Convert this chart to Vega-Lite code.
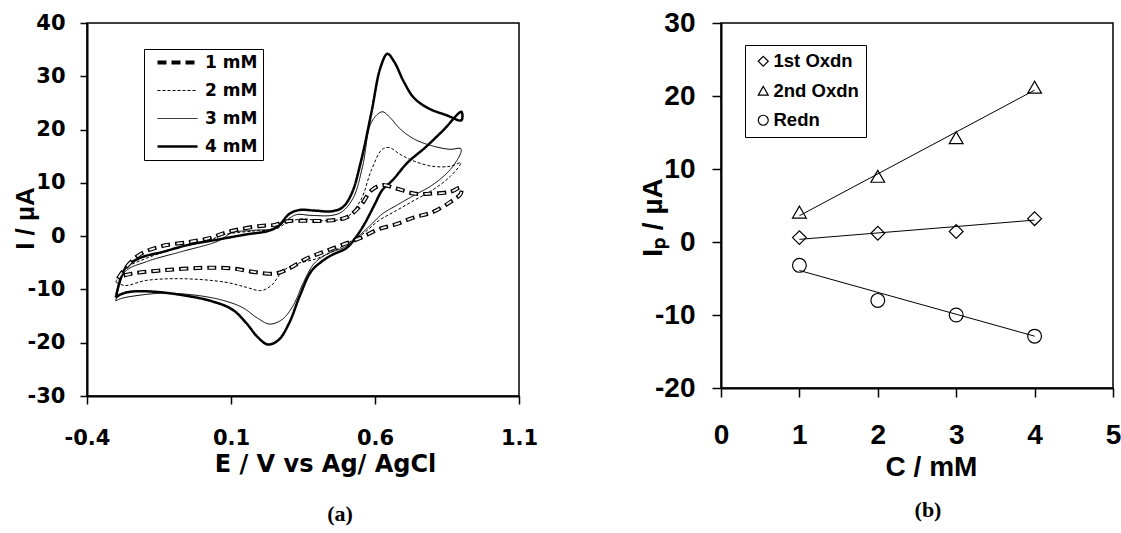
{
  "$schema": "https://vega.github.io/schema/vega-lite/v6.json",
  "background": "white",
  "padding": {"left": 11, "top": 8, "right": 5, "bottom": 5},
  "bounds": "flush",
  "spacing": 202,
  "resolve": {"scale": {"shape": "independent", "strokeDash": "independent", "strokeWidth": "independent"}, "legend": {"shape": "independent", "strokeDash": "independent", "strokeWidth": "independent"}},
  "config": {
    "view": {"stroke": "black", "strokeWidth": 1.5},
    "axis": {"grid": false, "domainColor": "black", "domainWidth": 2, "tickColor": "black", "tickWidth": 1.5, "labelColor": "black", "titleColor": "black", "labelFlush": false, "labelOverlap": false}
  },
  "datasets": {
    "cv": [
      {"c":"4 mM","i":0,"E":-0.300,"I":-11.5},
      {"c":"4 mM","i":1,"E":-0.268,"I":-6.07},
      {"c":"4 mM","i":2,"E":-0.219,"I":-4.16},
      {"c":"4 mM","i":3,"E":-0.132,"I":-2.88},
      {"c":"4 mM","i":4,"E":-0.045,"I":-1.60},
      {"c":"4 mM","i":5,"E":0.054,"I":-0.64},
      {"c":"4 mM","i":6,"E":0.153,"I":0.32},
      {"c":"4 mM","i":7,"E":0.228,"I":0.96},
      {"c":"4 mM","i":8,"E":0.265,"I":1.92},
      {"c":"4 mM","i":9,"E":0.302,"I":4.16},
      {"c":"4 mM","i":10,"E":0.339,"I":4.92},
      {"c":"4 mM","i":11,"E":0.389,"I":4.80},
      {"c":"4 mM","i":12,"E":0.451,"I":4.67},
      {"c":"4 mM","i":13,"E":0.488,"I":5.43},
      {"c":"4 mM","i":14,"E":0.519,"I":7.99},
      {"c":"4 mM","i":15,"E":0.550,"I":13.75},
      {"c":"4 mM","i":16,"E":0.588,"I":23.34},
      {"c":"4 mM","i":17,"E":0.619,"I":31.65},
      {"c":"4 mM","i":18,"E":0.643,"I":34.21},
      {"c":"4 mM","i":19,"E":0.668,"I":32.61},
      {"c":"4 mM","i":20,"E":0.699,"I":29.09},
      {"c":"4 mM","i":21,"E":0.736,"I":25.90},
      {"c":"4 mM","i":22,"E":0.786,"I":23.98},
      {"c":"4 mM","i":23,"E":0.848,"I":22.70},
      {"c":"4 mM","i":24,"E":0.900,"I":21.74},
      {"c":"4 mM","i":25,"E":0.900,"I":23.34},
      {"c":"4 mM","i":26,"E":0.836,"I":19.82},
      {"c":"4 mM","i":27,"E":0.774,"I":16.62},
      {"c":"4 mM","i":28,"E":0.712,"I":13.75},
      {"c":"4 mM","i":29,"E":0.662,"I":10.55},
      {"c":"4 mM","i":30,"E":0.625,"I":8.63},
      {"c":"4 mM","i":31,"E":0.600,"I":6.07},
      {"c":"4 mM","i":32,"E":0.563,"I":2.24},
      {"c":"4 mM","i":33,"E":0.532,"I":-0.32},
      {"c":"4 mM","i":34,"E":0.501,"I":-2.24},
      {"c":"4 mM","i":35,"E":0.451,"I":-3.52},
      {"c":"4 mM","i":36,"E":0.414,"I":-4.80},
      {"c":"4 mM","i":37,"E":0.377,"I":-6.71},
      {"c":"4 mM","i":38,"E":0.339,"I":-11.19},
      {"c":"4 mM","i":39,"E":0.302,"I":-16.30},
      {"c":"4 mM","i":40,"E":0.265,"I":-19.50},
      {"c":"4 mM","i":41,"E":0.228,"I":-20.33},
      {"c":"4 mM","i":42,"E":0.191,"I":-18.86},
      {"c":"4 mM","i":43,"E":0.153,"I":-16.30},
      {"c":"4 mM","i":44,"E":0.104,"I":-13.75},
      {"c":"4 mM","i":45,"E":0.029,"I":-12.15},
      {"c":"4 mM","i":46,"E":-0.070,"I":-11.06},
      {"c":"4 mM","i":47,"E":-0.169,"I":-10.42},
      {"c":"4 mM","i":48,"E":-0.244,"I":-10.40},
      {"c":"4 mM","i":49,"E":-0.281,"I":-10.87},
      {"c":"4 mM","i":50,"E":-0.300,"I":-11.5},

      {"c":"3 mM","i":0,"E":-0.300,"I":-12.15},
      {"c":"3 mM","i":1,"E":-0.268,"I":-6.71},
      {"c":"3 mM","i":2,"E":-0.194,"I":-4.80},
      {"c":"3 mM","i":3,"E":-0.070,"I":-2.88},
      {"c":"3 mM","i":4,"E":0.054,"I":-0.96},
      {"c":"3 mM","i":5,"E":0.104,"I":0.64},
      {"c":"3 mM","i":6,"E":0.178,"I":1.09},
      {"c":"3 mM","i":7,"E":0.253,"I":1.47},
      {"c":"3 mM","i":8,"E":0.290,"I":2.88},
      {"c":"3 mM","i":9,"E":0.327,"I":4.03},
      {"c":"3 mM","i":10,"E":0.377,"I":3.90},
      {"c":"3 mM","i":11,"E":0.451,"I":3.90},
      {"c":"3 mM","i":12,"E":0.488,"I":4.67},
      {"c":"3 mM","i":13,"E":0.526,"I":7.35},
      {"c":"3 mM","i":14,"E":0.557,"I":13.11},
      {"c":"3 mM","i":15,"E":0.588,"I":21.42},
      {"c":"3 mM","i":16,"E":0.625,"I":23.34},
      {"c":"3 mM","i":17,"E":0.650,"I":22.38},
      {"c":"3 mM","i":18,"E":0.687,"I":20.14},
      {"c":"3 mM","i":19,"E":0.736,"I":18.22},
      {"c":"3 mM","i":20,"E":0.799,"I":16.94},
      {"c":"3 mM","i":21,"E":0.861,"I":16.30},
      {"c":"3 mM","i":22,"E":0.898,"I":16.43},
      {"c":"3 mM","i":23,"E":0.898,"I":15.66},
      {"c":"3 mM","i":24,"E":0.861,"I":12.47},
      {"c":"3 mM","i":25,"E":0.799,"I":9.59},
      {"c":"3 mM","i":26,"E":0.736,"I":7.67},
      {"c":"3 mM","i":27,"E":0.674,"I":5.75},
      {"c":"3 mM","i":28,"E":0.625,"I":4.16},
      {"c":"3 mM","i":29,"E":0.588,"I":2.24},
      {"c":"3 mM","i":30,"E":0.550,"I":0.32},
      {"c":"3 mM","i":31,"E":0.526,"I":-0.96},
      {"c":"3 mM","i":32,"E":0.488,"I":-2.24},
      {"c":"3 mM","i":33,"E":0.439,"I":-3.20},
      {"c":"3 mM","i":34,"E":0.389,"I":-5.12},
      {"c":"3 mM","i":35,"E":0.352,"I":-8.63},
      {"c":"3 mM","i":36,"E":0.315,"I":-13.11},
      {"c":"3 mM","i":37,"E":0.277,"I":-15.66},
      {"c":"3 mM","i":38,"E":0.234,"I":-16.50},
      {"c":"3 mM","i":39,"E":0.191,"I":-15.35},
      {"c":"3 mM","i":40,"E":0.141,"I":-13.43},
      {"c":"3 mM","i":41,"E":0.079,"I":-12.15},
      {"c":"3 mM","i":42,"E":-0.008,"I":-11.19},
      {"c":"3 mM","i":43,"E":-0.132,"I":-10.70},
      {"c":"3 mM","i":44,"E":-0.219,"I":-11.10},
      {"c":"3 mM","i":45,"E":-0.281,"I":-11.70},
      {"c":"3 mM","i":46,"E":-0.300,"I":-12.15},

      {"c":"2 mM","i":0,"E":-0.300,"I":-8.63},
      {"c":"2 mM","i":1,"E":-0.268,"I":-6.07},
      {"c":"2 mM","i":2,"E":-0.194,"I":-4.16},
      {"c":"2 mM","i":3,"E":-0.070,"I":-1.92},
      {"c":"2 mM","i":4,"E":0.029,"I":-0.64},
      {"c":"2 mM","i":5,"E":0.079,"I":0.32},
      {"c":"2 mM","i":6,"E":0.178,"I":0.96},
      {"c":"2 mM","i":7,"E":0.253,"I":1.28},
      {"c":"2 mM","i":8,"E":0.290,"I":2.37},
      {"c":"2 mM","i":9,"E":0.339,"I":3.20},
      {"c":"2 mM","i":10,"E":0.426,"I":2.88},
      {"c":"2 mM","i":11,"E":0.501,"I":3.52},
      {"c":"2 mM","i":12,"E":0.550,"I":6.71},
      {"c":"2 mM","i":13,"E":0.588,"I":12.47},
      {"c":"2 mM","i":14,"E":0.625,"I":16.30},
      {"c":"2 mM","i":15,"E":0.650,"I":16.62},
      {"c":"2 mM","i":16,"E":0.687,"I":15.35},
      {"c":"2 mM","i":17,"E":0.736,"I":14.07},
      {"c":"2 mM","i":18,"E":0.799,"I":13.11},
      {"c":"2 mM","i":19,"E":0.861,"I":13.11},
      {"c":"2 mM","i":20,"E":0.898,"I":13.75},
      {"c":"2 mM","i":21,"E":0.861,"I":11.19},
      {"c":"2 mM","i":22,"E":0.799,"I":8.63},
      {"c":"2 mM","i":23,"E":0.736,"I":6.71},
      {"c":"2 mM","i":24,"E":0.674,"I":4.80},
      {"c":"2 mM","i":25,"E":0.612,"I":2.88},
      {"c":"2 mM","i":26,"E":0.563,"I":0.64},
      {"c":"2 mM","i":27,"E":0.526,"I":-0.64},
      {"c":"2 mM","i":28,"E":0.476,"I":-2.24},
      {"c":"2 mM","i":29,"E":0.401,"I":-4.16},
      {"c":"2 mM","i":30,"E":0.315,"I":-5.43},
      {"c":"2 mM","i":31,"E":0.277,"I":-6.71},
      {"c":"2 mM","i":32,"E":0.240,"I":-9.27},
      {"c":"2 mM","i":33,"E":0.203,"I":-10.23},
      {"c":"2 mM","i":34,"E":0.153,"I":-9.59},
      {"c":"2 mM","i":35,"E":0.079,"I":-8.63},
      {"c":"2 mM","i":36,"E":-0.070,"I":-7.99},
      {"c":"2 mM","i":37,"E":-0.194,"I":-8.31},
      {"c":"2 mM","i":38,"E":-0.268,"I":-9.27},
      {"c":"2 mM","i":39,"E":-0.300,"I":-8.63},

      {"c":"1 mM","i":0,"E":-0.293,"I":-7.99},
      {"c":"1 mM","i":1,"E":-0.268,"I":-6.07},
      {"c":"1 mM","i":2,"E":-0.219,"I":-3.52},
      {"c":"1 mM","i":3,"E":-0.144,"I":-1.92},
      {"c":"1 mM","i":4,"E":-0.045,"I":-1.09},
      {"c":"1 mM","i":5,"E":0.029,"I":-0.32},
      {"c":"1 mM","i":6,"E":0.079,"I":0.64},
      {"c":"1 mM","i":7,"E":0.129,"I":1.28},
      {"c":"1 mM","i":8,"E":0.203,"I":1.92},
      {"c":"1 mM","i":9,"E":0.253,"I":2.11},
      {"c":"1 mM","i":10,"E":0.290,"I":2.75},
      {"c":"1 mM","i":11,"E":0.352,"I":2.88},
      {"c":"1 mM","i":12,"E":0.426,"I":2.88},
      {"c":"1 mM","i":13,"E":0.501,"I":3.52},
      {"c":"1 mM","i":14,"E":0.550,"I":5.75},
      {"c":"1 mM","i":15,"E":0.588,"I":8.63},
      {"c":"1 mM","i":16,"E":0.625,"I":9.59},
      {"c":"1 mM","i":17,"E":0.674,"I":8.95},
      {"c":"1 mM","i":18,"E":0.736,"I":7.99},
      {"c":"1 mM","i":19,"E":0.799,"I":7.99},
      {"c":"1 mM","i":20,"E":0.861,"I":8.31},
      {"c":"1 mM","i":21,"E":0.898,"I":9.14},
      {"c":"1 mM","i":22,"E":0.898,"I":7.99},
      {"c":"1 mM","i":23,"E":0.861,"I":6.39},
      {"c":"1 mM","i":24,"E":0.799,"I":4.48},
      {"c":"1 mM","i":25,"E":0.736,"I":3.52},
      {"c":"1 mM","i":26,"E":0.674,"I":2.24},
      {"c":"1 mM","i":27,"E":0.612,"I":1.28},
      {"c":"1 mM","i":28,"E":0.550,"I":-0.32},
      {"c":"1 mM","i":29,"E":0.488,"I":-1.60},
      {"c":"1 mM","i":30,"E":0.426,"I":-2.88},
      {"c":"1 mM","i":31,"E":0.364,"I":-4.16},
      {"c":"1 mM","i":32,"E":0.302,"I":-6.07},
      {"c":"1 mM","i":33,"E":0.253,"I":-7.03},
      {"c":"1 mM","i":34,"E":0.178,"I":-6.71},
      {"c":"1 mM","i":35,"E":0.104,"I":-6.07},
      {"c":"1 mM","i":36,"E":0.004,"I":-5.95},
      {"c":"1 mM","i":37,"E":-0.132,"I":-6.39},
      {"c":"1 mM","i":38,"E":-0.244,"I":-7.03},
      {"c":"1 mM","i":39,"E":-0.287,"I":-7.67},
      {"c":"1 mM","i":40,"E":-0.293,"I":-7.99}
    ],
    "ip": [
      {"s":"1st Oxdn","C":1,"Ip":0.6},
      {"s":"1st Oxdn","C":2,"Ip":1.2},
      {"s":"1st Oxdn","C":3,"Ip":1.45},
      {"s":"1st Oxdn","C":4,"Ip":3.2},
      {"s":"2nd Oxdn","C":1,"Ip":4.1},
      {"s":"2nd Oxdn","C":2,"Ip":9.0},
      {"s":"2nd Oxdn","C":3,"Ip":14.3},
      {"s":"2nd Oxdn","C":4,"Ip":21.2},
      {"s":"Redn","C":1,"Ip":-3.2},
      {"s":"Redn","C":2,"Ip":-8.0},
      {"s":"Redn","C":3,"Ip":-10.0},
      {"s":"Redn","C":4,"Ip":-12.9}
    ],
    "fit": [
      {"s":"1st Oxdn","C":1,"Ip":0.36},
      {"s":"1st Oxdn","C":4,"Ip":3.0},
      {"s":"2nd Oxdn","C":1,"Ip":3.6},
      {"s":"2nd Oxdn","C":4,"Ip":20.8},
      {"s":"Redn","C":1,"Ip":-3.9},
      {"s":"Redn","C":4,"Ip":-12.9}
    ]
  },
  "hconcat": [
    {
      "width": 432,
      "height": 373,
      "title": {"text": "(a)", "orient": "bottom", "frame": "group", "anchor": "middle", "dx": 37, "offset": 28, "baseline": "top", "font": "Liberation Serif", "fontSize": 22, "fontWeight": "bold", "color": "black"},
      "data": {"name": "cv"},
      "encoding": {
        "x": {"field": "E", "type": "quantitative", "scale": {"domain": [-0.4, 1.1], "nice": false, "zero": false},
          "axis": {"values": [-0.4, 0.1, 0.6, 1.1], "labelExpr": "datum.value < 0 ? '-' + format(-datum.value, '.1f') : format(datum.value, '.1f')", "tickSize": 8, "labelPadding": 23, "labelFont": "DejaVu Sans", "labelFontWeight": "bold", "labelFontSize": 21,
            "title": "E / V vs Ag/ AgCl", "titleFont": "DejaVu Sans", "titleFontWeight": "bold", "titleFontSize": 24, "titleX": 238, "titleY": 75, "titleBaseline": "alphabetic", "titleAlign": "center"}},
        "y": {"field": "I", "type": "quantitative", "scale": {"domain": [-30, 40], "nice": false, "zero": false},
          "axis": {"values": [-30, -20, -10, 0, 10, 20, 30, 40], "labelExpr": "datum.value < 0 ? '-' + (-datum.value) : '' + datum.value", "tickSize": 7, "labelPadding": 15, "labelFont": "DejaVu Sans", "labelFontWeight": "bold", "labelFontSize": 21,
            "title": "I / µA", "titleFont": "Liberation Sans", "titleFontWeight": "bold", "titleFontSize": 26, "titleX": -62, "titleY": 195, "titleBaseline": "middle", "titleAlign": "center", "titleAngle": 270}},
        "order": {"field": "i", "type": "quantitative"}
      },
      "layer": [
        {
          "mark": {"type": "line", "interpolate": "catmull-rom", "color": "black"},
          "encoding": {
            "strokeDash": {"field": "c", "type": "nominal", "scale": {"type": "ordinal", "domain": ["1 mM", "2 mM", "3 mM", "4 mM"], "range": [[9, 5], [3, 2], [1, 0], [1, 0]]},
              "legend": {"orient": "none", "legendX": 57, "legendY": 26, "title": null, "symbolType": "M-4,0L4,0", "symbolSize": 100, "symbolStrokeColor": "black", "labelFont": "DejaVu Sans", "labelFontWeight": "bold", "labelFontSize": 17, "labelColor": "black", "strokeColor": "black", "fillColor": "white", "padding": 5, "symbolOffset": 20, "labelOffset": 19, "rowPadding": 10}},
            "strokeWidth": {"field": "c", "type": "nominal", "scale": {"type": "ordinal", "domain": ["1 mM", "2 mM", "3 mM", "4 mM"], "range": [4, 1, 1, 2.5]},
              "legend": {"orient": "none", "legendX": 57, "legendY": 26, "title": null, "symbolType": "M-4,0L4,0", "symbolSize": 100, "symbolStrokeColor": "black", "labelFont": "DejaVu Sans", "labelFontWeight": "bold", "labelFontSize": 17, "labelColor": "black", "strokeColor": "black", "fillColor": "white", "padding": 5, "symbolOffset": 20, "labelOffset": 19, "rowPadding": 10}}
          }
        },
        {
          "transform": [{"filter": "datum.c == '1 mM'"}],
          "mark": {"type": "line", "interpolate": "catmull-rom", "color": "#f2f2f2", "strokeDash": [6, 8], "strokeDashOffset": 12.5, "strokeWidth": 1.8},
          "encoding": {}
        }
      ]
    },
    {
      "width": 392,
      "height": 365,
      "title": {"text": "(b)", "orient": "bottom", "frame": "group", "anchor": "middle", "dx": 11, "offset": 19, "baseline": "top", "font": "Liberation Serif", "fontSize": 22, "fontWeight": "bold", "color": "black"},
      "encoding": {
        "x": {"field": "C", "type": "quantitative", "scale": {"domain": [0, 5], "nice": false},
          "axis": {"values": [0, 1, 2, 3, 4, 5], "tickSize": 9, "labelPadding": 24, "labelFont": "Liberation Sans", "labelFontWeight": "bold", "labelFontSize": 28,
            "title": "C / mM", "titleFont": "Liberation Sans", "titleFontWeight": "bold", "titleFontSize": 28, "titleX": 210, "titleY": 87, "titleBaseline": "alphabetic", "titleAlign": "center"}},
        "y": {"field": "Ip", "type": "quantitative", "scale": {"domain": [-20, 30], "nice": false, "zero": false},
          "axis": {"values": [-20, -10, 0, 10, 20, 30], "labelExpr": "datum.value < 0 ? '-' + (-datum.value) : '' + datum.value", "tickSize": 9, "labelPadding": 17, "labelFont": "Liberation Sans", "labelFontWeight": "bold", "labelFontSize": 28,
            "title": "Iₚ / µA", "titleFont": "Liberation Sans", "titleFontWeight": "bold", "titleFontSize": 28, "titleX": -68, "titleY": 194, "titleBaseline": "middle", "titleAlign": "center", "titleAngle": 270}}
      },
      "layer": [
        {
          "data": {"name": "fit"},
          "mark": {"type": "line", "color": "black", "strokeWidth": 1},
          "encoding": {"detail": {"field": "s", "type": "nominal"}}
        },
        {
          "data": {"name": "ip"},
          "mark": {"type": "point", "filled": false, "color": "black", "strokeWidth": 1.2, "size": 190, "opacity": 1},
          "encoding": {
            "shape": {"field": "s", "type": "nominal", "scale": {"domain": ["1st Oxdn", "2nd Oxdn", "Redn"], "range": ["diamond", "triangle-up", "circle"]},
              "legend": {"orient": "none", "legendX": 24, "legendY": 22, "title": null, "symbolSize": 100, "symbolStrokeColor": "black", "symbolFillColor": "transparent", "symbolStrokeWidth": 1.2, "labelFont": "Liberation Sans", "labelFontWeight": "bold", "labelFontSize": 18.5, "labelColor": "black", "strokeColor": "black", "fillColor": "white", "padding": 7, "symbolOffset": 2, "labelOffset": 1, "rowPadding": 10.5,
                "labelExpr": "datum.label == '2nd Oxdn' ? '\u00a02nd Oxdn' : datum.label"}}
          }
        }
      ]
    }
  ]
}
